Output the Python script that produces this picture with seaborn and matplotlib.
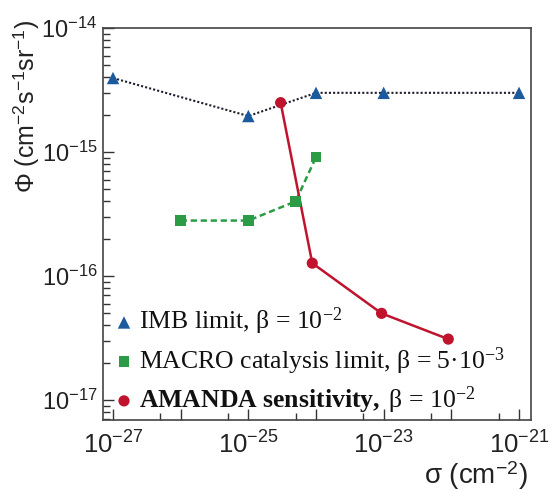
import numpy as np
import pandas as pd
import matplotlib
matplotlib.use("Agg")
import matplotlib.pyplot as plt
import matplotlib.ticker as mticker
import seaborn as sns

# ---- data ----
imb_sigma = [1e-27, 1e-25, 1e-24, 1e-23, 1e-21]
imb_phi = [3.95e-15, 1.95e-15, 3.0e-15, 3.0e-15, 3.0e-15]

macro_sigma = [1e-26, 1e-25, 5e-25, 1e-24]
macro_phi = [2.8e-16, 2.8e-16, 4.0e-16, 9.1e-16]

amanda_sigma = [3e-25, 8.8e-25, 9.3e-24, 9.0e-23]
amanda_phi = [2.5e-15, 1.27e-16, 5.0e-17, 3.1e-17]

series_labels = [
    "IMB limit, β = $\\mathdefault{10^{-2}}$",
    "MACRO catalysis limit, β = $\\mathdefault{5·10^{-3}}$",
    "$\\mathbf{AMANDA\\ sensitivity,}\\ $β = $\\mathdefault{10^{-2}}$",
]
x_label = "σ (cm$^{\\mathdefault{-2}}$)"
y_label = "Φ (cm$^{\\mathdefault{-2}}$s$^{\\mathdefault{-1}}$sr$^{\\mathdefault{-1}}$)"
y_ticks = [1e-17, 1e-16, 1e-15, 1e-14]

sns.set_theme(style="ticks")
plt.rcParams["font.family"] = ["Liberation Sans", "DejaVu Sans"]
plt.rcParams["mathtext.fontset"] = "custom"
plt.rcParams["mathtext.rm"] = "Liberation Serif"
plt.rcParams["mathtext.bf"] = "Liberation Serif:bold"
plt.rcParams["mathtext.it"] = "Liberation Serif:italic"

fig = plt.figure(figsize=(5.55, 4.91), dpi=100)
ax = fig.add_axes([103 / 555, 1 - 420 / 491, 428 / 555, 392 / 491])
ax.set_xscale("log")
ax.set_yscale("log")

blue = "#1b5a9c"
green = "#2b9b45"
red = "#c0142e"

sns.lineplot(x=imb_sigma, y=imb_phi, ax=ax, color="#1e1e2e", linewidth=1.5,
             linestyle=(0, (1, 1)), sort=False, estimator=None)
sns.lineplot(x=macro_sigma, y=macro_phi, ax=ax, color=green, linewidth=1.8,
             linestyle=(0, (2.5, 1.5)), sort=False, estimator=None)
sns.lineplot(x=amanda_sigma, y=amanda_phi, ax=ax, color=red, linewidth=1.8,
             sort=False, estimator=None)

sns.scatterplot(x=imb_sigma, y=imb_phi, ax=ax, marker="^", s=80, color=blue,
                edgecolor="none", label=series_labels[0], zorder=4)
sns.scatterplot(x=macro_sigma, y=macro_phi, ax=ax, marker="s", s=60, color=green,
                edgecolor="none", label=series_labels[1], zorder=4)
sns.scatterplot(x=amanda_sigma, y=amanda_phi, ax=ax, marker="o", s=65, color=red,
                edgecolor="none", label=series_labels[2], zorder=4)

ax.set_xlim(10 ** -27.148, 10 ** -20.823)
ax.set_ylim(10 ** -17.161, 1e-14)

ax.xaxis.set_major_locator(mticker.FixedLocator([10.0 ** e for e in range(-27, -20)]))
ax.xaxis.set_minor_locator(mticker.FixedLocator([5 * 10.0 ** e for e in range(-28, -21)]))


def xfmt(v, pos):
    e = int(round(np.log10(v)))
    return "$\\mathdefault{10^{%d}}$" % e if e % 2 != 0 else ""


ax.xaxis.set_major_formatter(mticker.FuncFormatter(xfmt))
ax.xaxis.set_minor_formatter(mticker.NullFormatter())
ax.yaxis.set_major_locator(mticker.FixedLocator(y_ticks))
ax.yaxis.set_major_formatter(mticker.LogFormatterSciNotation())
ax.yaxis.set_minor_locator(mticker.FixedLocator(
    [m * t for t in [1e-18] + y_ticks[:-1] for m in range(2, 10)]))
ax.yaxis.set_minor_formatter(mticker.NullFormatter())

ax.tick_params(which="both", direction="in", top=False, right=False,
               color="#333333", width=1.0, labelcolor="#222222")
ax.tick_params(which="major", length=8)
ax.tick_params(which="minor", length=5)
ax.tick_params(axis="x", which="major", labelsize=18.5, pad=8)
ax.tick_params(axis="y", which="major", labelsize=17, pad=4)

for sp in ax.spines.values():
    sp.set_color("#444444")
    sp.set_linewidth(1.2)

ax.set_ylabel(y_label, fontsize=18, loc="top", color="#222222")
ax.yaxis.set_label_coords(-0.145, 1.02)
ax.set_xlabel(x_label, fontsize=20, loc="right", color="#222222")
ax.xaxis.set_label_coords(0.993, -0.10)

leg = ax.legend(loc="lower left", bbox_to_anchor=(-0.023, -0.035), frameon=False,
                prop={"family": "Liberation Serif", "size": 18.5},
                handletextpad=0.1, handlelength=1.0, labelspacing=0.3,
                borderaxespad=0.3)
for t in leg.get_texts():
    t.set_color("#111111")

fig.savefig("out.png", dpi=100)
